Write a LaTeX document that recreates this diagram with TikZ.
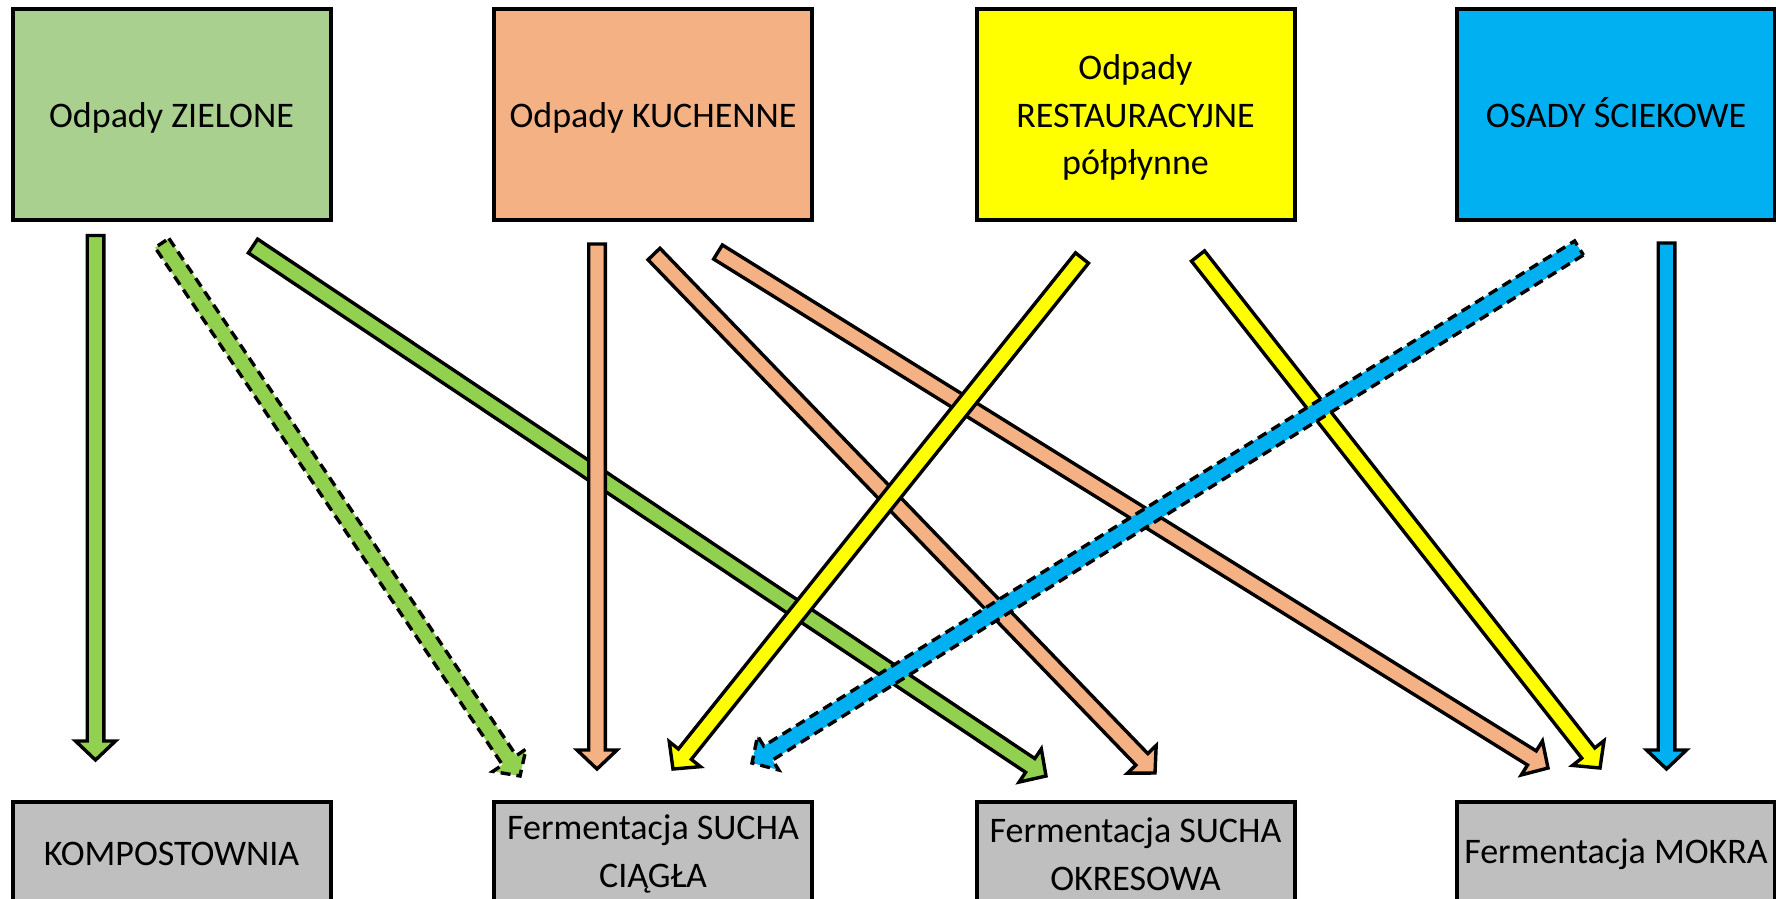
\documentclass[tikz,border=0pt]{standalone}
\usepackage{fontspec}
\setmainfont{Carlito}
\usetikzlibrary{calc}
\definecolor{boxgreen}{HTML}{A9D08E}
\definecolor{argreen}{HTML}{92D050}
\definecolor{orng}{HTML}{F4B183}
\definecolor{yell}{HTML}{FFFF00}
\definecolor{blu}{HTML}{00B0F0}
\definecolor{gry}{HTML}{BFBFBF}
\newcommand\arrSW{8.3pt}
\newcommand\arrHW{20pt}
\newcommand\arrHL{19pt}
\newcommand\blockarr[3]{%
  \coordinate (hb) at ($(#3)!\arrHL!(#2)$);
  \draw[#1] ($(#2)!\arrSW!90:(#3)$) -- ($(hb)!\arrSW!90:(#3)$) -- ($(hb)!\arrHW!90:(#3)$) -- (#3) -- ($(hb)!\arrHW!-90:(#3)$) -- ($(hb)!\arrSW!-90:(#3)$) -- ($(#2)!\arrSW!-90:(#3)$) -- cycle;}
\tikzset{
  basebox/.style={draw, line width=4pt, minimum width=318pt, align=center, inner sep=0pt,
    font=\fontsize{36}{47.5}\selectfont},
  box/.style={basebox, minimum height=211pt, text depth=0pt},
  bbox/.style={basebox, fill=gry, minimum height=104pt},
  arr/.style={draw=black, line width=3.4pt, line join=miter},
  darr/.style={arr, dash pattern=on 10pt off 6pt}
}
\begin{document}
\begin{tikzpicture}[x=1pt,y=-1pt]
\useasboundingbox (0,0) rectangle (1776,898);
% source boxes
\node[box, fill=boxgreen, text height=25pt] (zie) at (171.5,114.5) {Odpady ZIELONE};
\node[box, fill=orng, text height=25pt] (kuc) at (653,114.5) {Odpady KUCHENNE};
\node[box, fill=yell] (res) at (1135.5,114.5) {Odpady\\RESTAURACYJNE\\półpłynne};
\node[box, fill=blu, text height=25pt] (osa) at (1616,114.5) {OSADY ŚCIEKOWE};
% target boxes
\node[bbox] (kom) at (171.5,854) {KOMPOSTOWNIA};
\node[bbox] (sc) at (653,854) {Fermentacja SUCHA\\CIĄGŁA};
\node[bbox] (so) at (1135.5,854) {Fermentacja SUCHA\\OKRESOWA};
\node[bbox] (mok) at (1616,854) {Fermentacja MOKRA};
% arrow ends
\coordinate (g1s) at (95.5,235.5);  \coordinate (g1e) at (95.5,760);
\coordinate (g2s) at (162,243);     \coordinate (g2e) at (520,776);
\coordinate (g3s) at (253,246);     \coordinate (g3e) at (1046,776);
\coordinate (o1s) at (597,244);     \coordinate (o1e) at (597,769);
\coordinate (o2s) at (654,254);     \coordinate (o2e) at (1155,773);
\coordinate (o3s) at (718,252);     \coordinate (o3e) at (1548,768);
\coordinate (y1s) at (1082,258);    \coordinate (y1e) at (673,769);
\coordinate (y2s) at (1198,256);    \coordinate (y2e) at (1600,768);
\coordinate (b1s) at (1579,248);    \coordinate (b1e) at (752,763);
\coordinate (b2s) at (1666.5,243);  \coordinate (b2e) at (1666.5,769);
% arrows
\blockarr{arr, fill=argreen}{g1s}{g1e}
\blockarr{darr, fill=argreen}{g2s}{g2e}
\blockarr{arr, fill=argreen}{g3s}{g3e}
\blockarr{arr, fill=orng}{o1s}{o1e}
\blockarr{arr, fill=orng}{o2s}{o2e}
\blockarr{arr, fill=orng}{o3s}{o3e}
\blockarr{arr, fill=yell}{y1s}{y1e}
\blockarr{arr, fill=yell}{y2s}{y2e}
\blockarr{darr, fill=blu}{b1s}{b1e}
\blockarr{arr, fill=blu}{b2s}{b2e}
\end{tikzpicture}
\end{document}
